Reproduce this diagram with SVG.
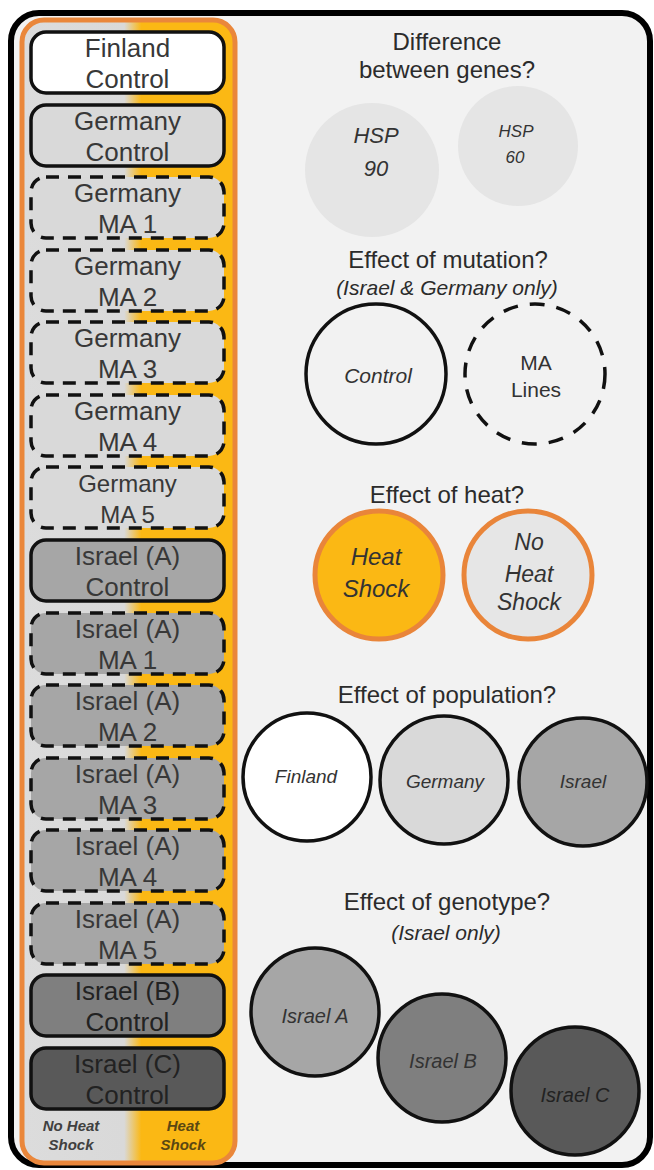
<svg xmlns="http://www.w3.org/2000/svg" width="654" height="1170" viewBox="0 0 654 1170">
<defs>
<linearGradient id="hs" x1="0" y1="0" x2="1" y2="0">
<stop offset="0" stop-color="#dcdcdc"/>
<stop offset="0.48" stop-color="#d9d9d9"/>
<stop offset="0.56" stop-color="#fbb814"/>
<stop offset="1" stop-color="#fbb814"/>
</linearGradient>
<style>
.box{stroke:#111;stroke-width:3.5}
.dash{stroke-dasharray:13 9}
.bt{font-family:"Liberation Sans",Arial,sans-serif;font-size:26px;fill:#383838;text-anchor:middle}
.dk{fill:#222}
.ti{font-family:"Liberation Sans",Arial,sans-serif;font-size:24px;fill:#2b2b2b;text-anchor:middle}
.it{font-style:italic}
.cl{font-family:"Liberation Sans",Arial,sans-serif;font-style:italic;fill:#333;text-anchor:middle}
.ring{fill:none;stroke:#111;stroke-width:3.5}
.pop{stroke:#111;stroke-width:3.5}
.heat{stroke:#e9853a;stroke-width:5}
.lg{font-family:"Liberation Sans",Arial,sans-serif;font-size:15px;font-weight:bold;font-style:italic;text-anchor:middle}
</style>
</defs>
<rect id="frame" x="11" y="13" width="639" height="1152" rx="28" fill="#f2f2f2" stroke="#000" stroke-width="6"/>
<g id="legend-panel">
<rect x="22" y="20" width="213" height="1143" rx="22" fill="url(#hs)" stroke="#ea873b" stroke-width="5"/>
<text class="lg" x="71" y="1131" fill="#404040">No Heat</text>
<text class="lg" x="71" y="1150" fill="#404040">Shock</text>
<text class="lg" x="183" y="1131" fill="#5a4712">Heat</text>
<text class="lg" x="183" y="1150" fill="#5a4712">Shock</text>
</g>
<g id="box-finland-control"><rect class="box" x="31" y="32" width="193" height="61" rx="15" fill="#fff"/><text class="bt" x="127.5" y="57">Finland</text><text class="bt" x="127.5" y="88">Control</text></g>
<g id="box-germany-control"><rect class="box" x="31" y="105" width="193" height="61" rx="15" fill="#d9d9d9"/><text class="bt" x="127.5" y="130">Germany</text><text class="bt" x="127.5" y="161">Control</text></g>
<g id="box-germany-ma1"><rect class="box dash" x="31" y="177" width="193" height="61" rx="15" fill="#d9d9d9"/><text class="bt" x="127.5" y="202">Germany</text><text class="bt" x="127.5" y="233">MA 1</text></g>
<g id="box-germany-ma2"><rect class="box dash" x="31" y="250" width="193" height="61" rx="15" fill="#d9d9d9"/><text class="bt" x="127.5" y="275">Germany</text><text class="bt" x="127.5" y="306">MA 2</text></g>
<g id="box-germany-ma3"><rect class="box dash" x="31" y="322" width="193" height="61" rx="15" fill="#d9d9d9"/><text class="bt" x="127.5" y="347">Germany</text><text class="bt" x="127.5" y="378">MA 3</text></g>
<g id="box-germany-ma4"><rect class="box dash" x="31" y="395" width="193" height="61" rx="15" fill="#d9d9d9"/><text class="bt" x="127.5" y="420">Germany</text><text class="bt" x="127.5" y="451">MA 4</text></g>
<g id="box-germany-ma5"><rect class="box dash" x="31" y="467" width="193" height="61" rx="15" fill="#d9d9d9"/><text class="bt" x="127.5" y="492" style="font-size:24px">Germany</text><text class="bt" x="127.5" y="523" style="font-size:24px">MA 5</text></g>
<g id="box-israelA-control"><rect class="box" x="31" y="540" width="193" height="61" rx="15" fill="#a6a6a6"/><text class="bt" x="127.5" y="565">Israel (A)</text><text class="bt" x="127.5" y="596">Control</text></g>
<g id="box-israelA-ma1"><rect class="box dash" x="31" y="613" width="193" height="61" rx="15" fill="#a6a6a6"/><text class="bt" x="127.5" y="638">Israel (A)</text><text class="bt" x="127.5" y="669">MA 1</text></g>
<g id="box-israelA-ma2"><rect class="box dash" x="31" y="685" width="193" height="61" rx="15" fill="#a6a6a6"/><text class="bt" x="127.5" y="710">Israel (A)</text><text class="bt" x="127.5" y="741">MA 2</text></g>
<g id="box-israelA-ma3"><rect class="box dash" x="31" y="758" width="193" height="61" rx="15" fill="#a6a6a6"/><text class="bt" x="127.5" y="783">Israel (A)</text><text class="bt" x="127.5" y="814">MA 3</text></g>
<g id="box-israelA-ma4"><rect class="box dash" x="31" y="830" width="193" height="61" rx="15" fill="#a6a6a6"/><text class="bt" x="127.5" y="855">Israel (A)</text><text class="bt" x="127.5" y="886">MA 4</text></g>
<g id="box-israelA-ma5"><rect class="box dash" x="31" y="903" width="193" height="61" rx="15" fill="#a6a6a6"/><text class="bt" x="127.5" y="928">Israel (A)</text><text class="bt" x="127.5" y="959">MA 5</text></g>
<g id="box-israelB-control"><rect class="box" x="31" y="975" width="193" height="61" rx="15" fill="#7f7f7f"/><text class="bt dk" x="127.5" y="1000">Israel (B)</text><text class="bt dk" x="127.5" y="1031">Control</text></g>
<g id="box-israelC-control"><rect class="box" x="31" y="1048" width="193" height="61" rx="15" fill="#595959"/><text class="bt dk" x="127.5" y="1073">Israel (C)</text><text class="bt dk" x="127.5" y="1104">Control</text></g>

<g id="q-genes">
<text class="ti" x="447" y="50">Difference</text>
<text class="ti" x="447" y="78">between genes?</text>
<circle cx="372" cy="170" r="67" fill="#e5e5e5"/>
<text class="cl" x="376" y="143" font-size="22">HSP</text>
<text class="cl" x="376" y="176" font-size="22">90</text>
<circle cx="518" cy="146" r="60" fill="#e5e5e5"/>
<text class="cl" x="516" y="137" font-size="17">HSP</text>
<text class="cl" x="515" y="163" font-size="17">60</text>
</g>
<g id="q-mutation">
<text class="ti" x="448" y="268">Effect of mutation?</text>
<text class="ti it" x="447" y="295" style="font-size:21px">(Israel &amp; Germany only)</text>
<circle class="ring" cx="376" cy="374" r="70"/>
<text class="cl" x="378" y="383" font-size="21">Control</text>
<circle class="ring" cx="535" cy="374" r="70" stroke-dasharray="15 12"/>
<text class="cl" x="536" y="370" font-size="21" style="font-style:normal">MA</text>
<text class="cl" x="536" y="397" font-size="21" style="font-style:normal">Lines</text>
</g>
<g id="q-heat">
<text class="ti" x="447" y="503">Effect of heat?</text>
<circle class="heat" cx="379" cy="575" r="64" fill="#fbb814"/>
<text class="cl" x="376" y="565" font-size="24">Heat</text>
<text class="cl" x="376" y="597" font-size="24">Shock</text>
<circle class="heat" cx="528" cy="575" r="64" fill="#e6e6e6"/>
<text class="cl" x="529" y="550" font-size="23">No</text>
<text class="cl" x="529" y="582" font-size="23">Heat</text>
<text class="cl" x="529" y="610" font-size="23">Shock</text>
</g>
<g id="q-population">
<text class="ti" x="447" y="703">Effect of population?</text>
<circle class="pop" cx="307" cy="777" r="64" fill="#fff"/>
<text class="cl" x="306" y="783" font-size="19">Finland</text>
<circle class="pop" cx="444" cy="780" r="64" fill="#d9d9d9"/>
<text class="cl" x="445" y="788" font-size="19">Germany</text>
<circle class="pop" cx="583" cy="782" r="64" fill="#a6a6a6"/>
<text class="cl" x="583" y="788" font-size="19">Israel</text>
</g>
<g id="q-genotype">
<text class="ti" x="447" y="910">Effect of genotype?</text>
<text class="ti it" x="446" y="940" style="font-size:21px">(Israel only)</text>
<circle class="pop" cx="315" cy="1012" r="64" fill="#a6a6a6"/>
<text class="cl" x="315" y="1023" font-size="20">Israel A</text>
<circle class="pop" cx="442" cy="1058" r="64" fill="#7f7f7f"/>
<text class="cl" x="443" y="1068" font-size="20">Israel B</text>
<circle class="pop" cx="575" cy="1091" r="64" fill="#595959"/>
<text class="cl" x="575" y="1102" font-size="20" style="fill:#222">Israel C</text>
</g>
</svg>
